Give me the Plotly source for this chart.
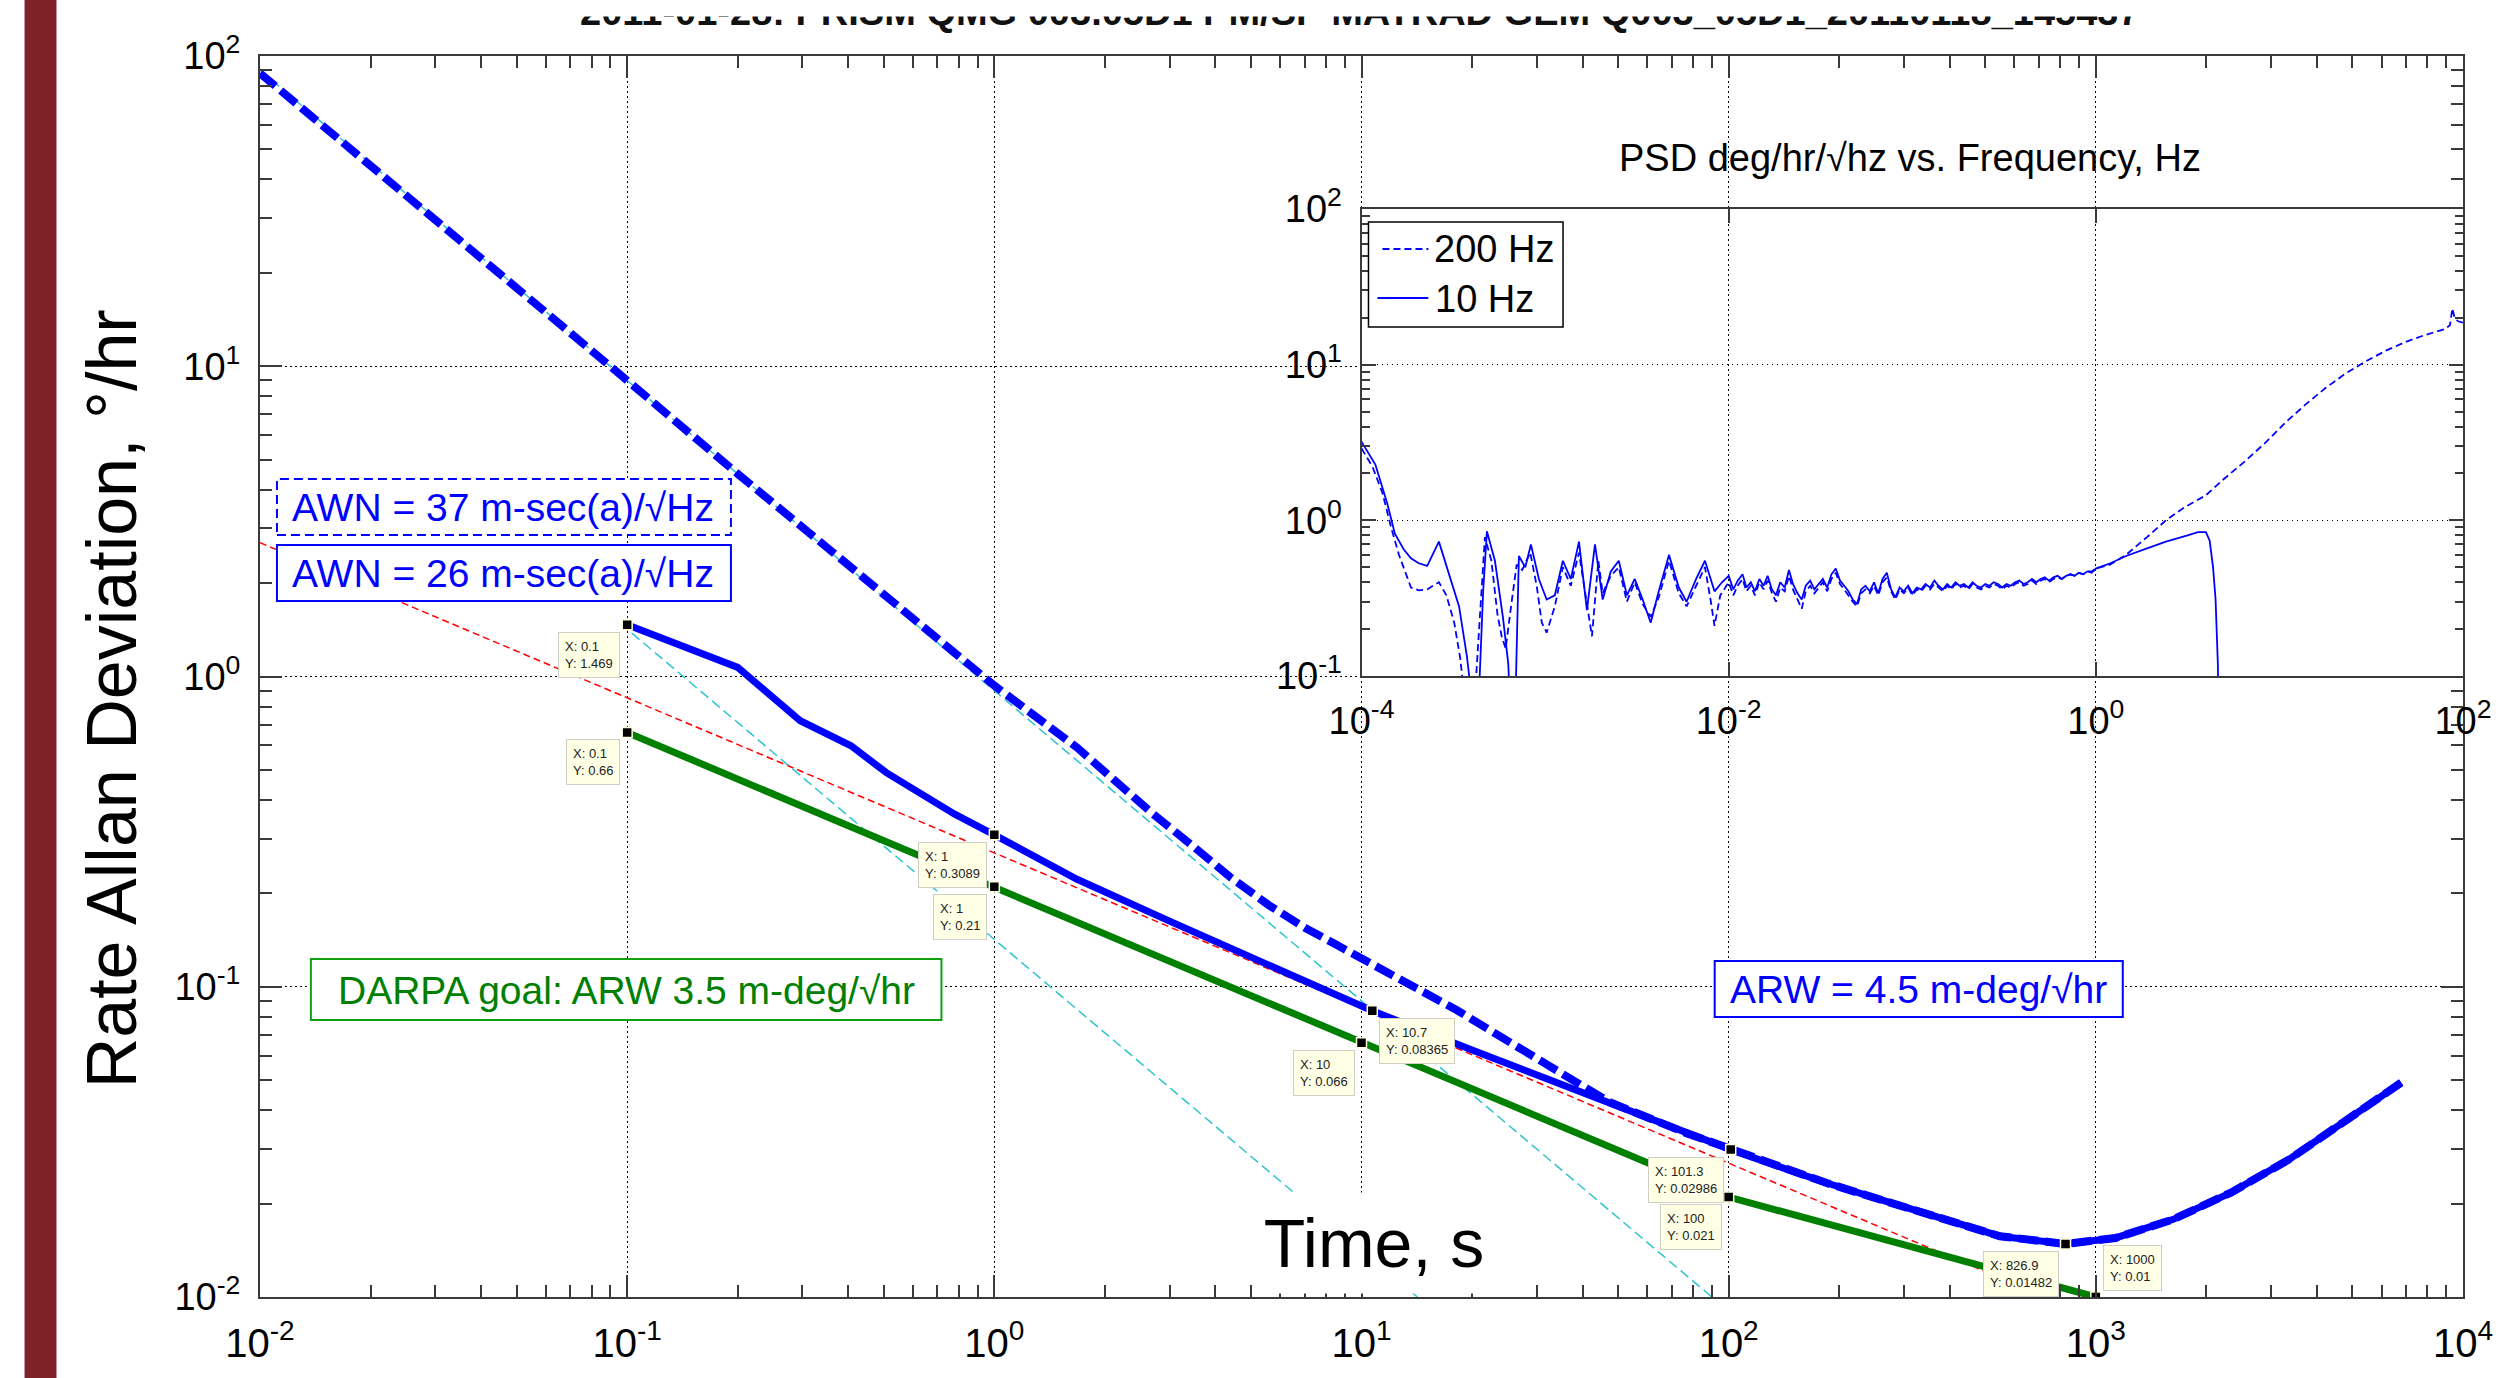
import math
import plotly.graph_objects as go

# ---------------- data ----------------
# Rate Allan deviation, 200 Hz bandwidth (thick dashed)
adev200_tau = [0.01, 0.02, 0.05, 0.1, 0.2, 0.4, 1.0, 1.68, 2.71, 3.5, 4.38, 5.6, 7.07, 8.5, 10.2, 12.5,
               15.2, 18.2, 23, 29.3, 47.3, 76.4, 100, 185, 266, 382, 548, 826.9, 1131, 1626, 2333,
               3350, 4812, 6790]
adev200_val = [88, 44.5, 17.9, 9.0, 4.5, 2.3, 0.935, 0.59, 0.36, 0.282, 0.226, 0.183, 0.154, 0.137, 0.122,
               0.108, 0.094, 0.084, 0.071, 0.0596, 0.0425, 0.0338, 0.0302, 0.0233, 0.0204, 0.0178,
               0.0157, 0.01482, 0.0155, 0.0178, 0.0217, 0.0277, 0.0373, 0.0491]

# Rate Allan deviation, 10 Hz bandwidth (thick solid)
adev10_tau = [0.1, 0.2, 0.296, 0.407, 0.508, 0.596, 0.78, 1.0, 1.68, 2.99, 5.56, 8.98, 10.7, 20, 50,
              101.3, 135, 185, 266, 382, 548, 826.9, 1131, 1626, 2333, 3350, 4812, 6790]
adev10_val = [1.469, 1.07, 0.72, 0.598, 0.49, 0.439, 0.36, 0.3089, 0.222, 0.163, 0.118, 0.0912, 0.08365,
              0.0625, 0.041, 0.02986, 0.0265, 0.0233, 0.0204, 0.0178, 0.0157, 0.01482, 0.0155, 0.0178,
              0.0217, 0.0277, 0.0373, 0.0491]

# DARPA goal line
goal_tau = [0.1, 1, 10, 100, 1000]
goal_val = [0.66, 0.21, 0.066, 0.021, 0.01]

# ARW fit (red dashed) and AWN fits (cyan dashed)
arw_tau = [0.01, 1000]
arw_val = [2.7, 0.00854]
awn26_tau = [0.103, 14.2]
awn26_val = [1.38, 0.01]
awn37_tau = [0.01, 90]
awn37_val = [90, 0.01]

# data tips
tip_x = [0.1, 0.1, 1, 1, 10, 10.7, 101.3, 100, 826.9, 1000]
tip_y = [1.469, 0.66, 0.3089, 0.21, 0.066, 0.08365, 0.02986, 0.021, 0.01482, 0.01]

# PSD inset, 10 Hz (solid)
psd10_f = [1.0e-4, 1.19e-4, 1.38e-4, 1.52e-4, 1.7e-4, 1.86e-4, 2.05e-4, 2.28e-4, 2.64e-4, 3.07e-4,
           3.40e-4, 3.75e-4, 4.06e-4, 4.35e-4, 4.6e-4, 4.82e-4, 5.33e-4, 5.89e-4, 6.3e-4, 6.52e-4,
           6.85e-4, 7.2e-4, 7.8e-4, 8.37e-4, 9.25e-4, 1.02e-3, 1.13e-3, 1.25e-3, 1.38e-3, 1.53e-3,
           1.69e-3, 1.87e-3, 2.06e-3, 2.28e-3, 2.52e-3, 2.79e-3, 3.08e-3, 3.40e-3, 3.76e-3, 4.16e-3,
           4.73e-3, 5.35e-3, 5.90e-3, 6.65e-3, 7.43e-3, 8.37e-3, 9.2e-3,
           0.0100, 0.0106, 0.0112, 0.0119, 0.0125, 0.0132, 0.0139, 0.0147, 0.0155, 0.0163,
           0.0172, 0.0181, 0.0191, 0.0202, 0.0213, 0.0224, 0.0237, 0.0250, 0.0263, 0.0278,
           0.0293, 0.0309, 0.0326, 0.0344, 0.0363, 0.0383, 0.0404, 0.0426, 0.0449, 0.0474,
           0.0500, 0.0527, 0.0556, 0.0587, 0.0619, 0.0653, 0.0689, 0.0727, 0.0767, 0.0809,
           0.0853, 0.0900, 0.0950, 0.100, 0.106, 0.112, 0.118, 0.125, 0.132, 0.139,
           0.147, 0.155, 0.163, 0.172, 0.181, 0.191, 0.202, 0.213, 0.224, 0.237,
           0.250, 0.263, 0.278, 0.293, 0.309, 0.326, 0.344, 0.363, 0.383, 0.404,
           0.426, 0.449, 0.474, 0.500, 0.527, 0.556, 0.587, 0.619, 0.653, 0.689,
           0.727, 0.767, 0.809, 0.853, 0.900, 0.950, 1.0, 1.2, 1.46, 1.9,
           2.41, 3.16, 3.6, 3.98, 4.17, 4.35, 4.49, 4.62, 4.75]
psd10_val = [3.2, 2.28, 1.29, 0.82, 0.65, 0.57, 0.53, 0.51, 0.73, 0.42,
             0.28, 0.134, 0.06, 0.07, 0.35, 0.85, 0.55, 0.24, 0.12, 0.05,
             0.05, 0.59, 0.50, 0.70, 0.42, 0.31, 0.33, 0.55, 0.42, 0.73,
             0.265, 0.70, 0.31, 0.47, 0.55, 0.33, 0.42, 0.31, 0.22, 0.35,
             0.60, 0.37, 0.30, 0.42, 0.55, 0.35, 0.40,
             0.44, 0.36, 0.41, 0.45, 0.37, 0.40, 0.35, 0.42, 0.38, 0.44,
             0.36, 0.33, 0.40, 0.37, 0.48, 0.39, 0.34, 0.31, 0.38, 0.41,
             0.36, 0.39, 0.42, 0.37, 0.45, 0.49, 0.41, 0.38, 0.35, 0.31,
             0.29, 0.36, 0.38, 0.35, 0.40, 0.34, 0.42, 0.46, 0.36, 0.32,
             0.37, 0.35, 0.38, 0.34, 0.37, 0.36, 0.39, 0.37, 0.41, 0.38,
             0.36, 0.39, 0.37, 0.40, 0.38, 0.39, 0.37, 0.40, 0.38, 0.37,
             0.39, 0.38, 0.40, 0.39, 0.37, 0.39, 0.38, 0.40, 0.41, 0.39,
             0.40, 0.42, 0.40, 0.42, 0.43, 0.41, 0.43, 0.44, 0.42, 0.44,
             0.45, 0.44, 0.46, 0.45, 0.47, 0.46, 0.49, 0.53, 0.59, 0.66,
             0.73, 0.80, 0.84, 0.84, 0.74, 0.50, 0.31, 0.12, 0.02]

# PSD inset, 200 Hz (dashed)
psd200_f = [1.0e-4, 1.15e-4, 1.3e-4, 1.45e-4, 1.6e-4, 1.75e-4, 1.86e-4, 2.05e-4, 2.28e-4, 2.45e-4,
            2.64e-4, 2.9e-4, 3.2e-4, 3.45e-4, 3.65e-4, 4.1e-4, 4.45e-4, 4.7e-4, 5.1e-4, 5.5e-4,
            5.8e-4, 6.1e-4, 6.5e-4, 7.0e-4, 7.5e-4, 8.3e-4, 9.0e-4, 9.6e-4, 1.02e-3, 1.13e-3,
            1.25e-3, 1.38e-3, 1.53e-3, 1.69e-3, 1.8e-3, 1.95e-3, 2.06e-3, 2.28e-3, 2.52e-3, 2.79e-3,
            3.08e-3, 3.40e-3, 3.76e-3, 4.16e-3, 4.73e-3, 5.35e-3, 5.90e-3, 6.65e-3, 7.43e-3, 8.0e-3,
            8.37e-3, 9.0e-3,
            0.0100, 0.0106, 0.0112, 0.0119, 0.0125, 0.0132, 0.0139, 0.0147, 0.0155, 0.0163,
            0.0172, 0.0181, 0.0191, 0.0202, 0.0213, 0.0224, 0.0237, 0.0250, 0.0263, 0.0278,
            0.0293, 0.0309, 0.0326, 0.0344, 0.0363, 0.0383, 0.0404, 0.0426, 0.0449, 0.0474,
            0.0500, 0.0527, 0.0556, 0.0587, 0.0619, 0.0653, 0.0689, 0.0727, 0.0767, 0.0809,
            0.0853, 0.0900, 0.0950, 0.100, 0.106, 0.112, 0.118, 0.125, 0.132, 0.139,
            0.147, 0.155, 0.163, 0.172, 0.181, 0.191, 0.202, 0.213, 0.224, 0.237,
            0.250, 0.263, 0.278, 0.293, 0.309, 0.326, 0.344, 0.363, 0.383, 0.404,
            0.426, 0.449, 0.474, 0.500, 0.527, 0.556, 0.587, 0.619, 0.653, 0.689,
            0.727, 0.767, 0.809, 0.853, 0.900, 0.950, 1.0, 1.2, 1.46, 1.9,
            2.41, 3.0, 3.98, 5.0, 6.56, 8.5, 10.8, 14, 17.9, 23,
            29.5, 38, 48.6, 62, 80.4, 85, 87.5, 90, 94, 100]
psd200_val = [2.9, 2.2, 1.5, 0.9, 0.6, 0.45, 0.37, 0.355, 0.36, 0.38,
              0.40, 0.33, 0.22, 0.13, 0.07, 0.06, 0.30, 0.78, 0.55, 0.25,
              0.18, 0.15, 0.27, 0.52, 0.48, 0.62, 0.38, 0.22, 0.19, 0.28,
              0.50, 0.38, 0.62, 0.30, 0.18, 0.55, 0.34, 0.44, 0.50, 0.30,
              0.40, 0.29, 0.24, 0.32, 0.55, 0.34, 0.28, 0.38, 0.50, 0.30,
              0.21, 0.33,
              0.40, 0.33, 0.38, 0.42, 0.35, 0.38, 0.33, 0.40, 0.36, 0.41,
              0.34, 0.30, 0.37, 0.35, 0.44, 0.36, 0.31, 0.27, 0.35, 0.38,
              0.34, 0.37, 0.40, 0.35, 0.42, 0.46, 0.39, 0.36, 0.33, 0.30,
              0.28, 0.34, 0.36, 0.34, 0.38, 0.33, 0.40, 0.43, 0.35, 0.31,
              0.36, 0.34, 0.37, 0.33, 0.36, 0.35, 0.38, 0.36, 0.39, 0.37,
              0.35, 0.38, 0.36, 0.39, 0.37, 0.38, 0.36, 0.39, 0.37, 0.36,
              0.38, 0.37, 0.39, 0.38, 0.36, 0.38, 0.37, 0.39, 0.40, 0.38,
              0.39, 0.41, 0.39, 0.41, 0.42, 0.40, 0.42, 0.43, 0.42, 0.44,
              0.45, 0.44, 0.46, 0.45, 0.47, 0.47, 0.49, 0.52, 0.60, 0.78,
              1.0, 1.2, 1.45, 1.85, 2.42, 3.2, 4.26, 5.6, 7.1, 8.8,
              10.5, 12.3, 14.0, 15.5, 17.0, 18.0, 23.0, 20.0, 19.0, 18.6]

main_x_ticks = [0.01, 0.1, 1, 10, 100, 1000, 10000]
main_x_labels = ["10<sup>-2</sup>", "10<sup>-1</sup>", "10<sup>0</sup>", "10<sup>1</sup>",
                 "10<sup>2</sup>", "10<sup>3</sup>", "10<sup>4</sup>"]
main_y_ticks = [0.01, 0.1, 1, 10, 100]
main_y_labels = ["10<sup>-2</sup>", "10<sup>-1</sup>", "10<sup>0</sup>", "10<sup>1</sup>", "10<sup>2</sup>"]
psd_x_ticks = [1e-4, 1e-2, 1, 100]
psd_x_labels = ["10<sup>-4</sup>", "10<sup>-2</sup>", "10<sup>0</sup>", "10<sup>2</sup>"]
psd_y_ticks = [0.1, 1, 10, 100]
psd_y_labels = ["10<sup>-1</sup>", "10<sup>0</sup>", "10<sup>1</sup>", "10<sup>2</sup>"]
legend_names = ["200 Hz", "10 Hz"]

# ---------------- layout helpers ----------------
W, H = 2505, 1378
L, R, T, B = 260, 2468, 56, 1297
PW, PH = R - L, B - T


def px(xp):
    return (xp - L) / PW


def py(yp):
    return (B - yp) / PH


FONT = "Liberation Sans, Arial, sans-serif"
BLUE = "#0000FF"
GREEN = "#008000"
AX = "#3a3a3a"


def minor_vals(e0, e1):
    return [m * 10 ** e for e in range(e0, e1) for m in range(2, 10)]


fig = go.Figure()

# main traces
fig.add_trace(go.Scatter(x=arw_tau, y=arw_val, mode="lines",
                         line=dict(color="#FF0000", width=1.5, dash="7px,4px")))
fig.add_trace(go.Scatter(x=awn26_tau, y=awn26_val, mode="lines",
                         line=dict(color="#2EC4CF", width=1.5, dash="10px,5px")))
fig.add_trace(go.Scatter(x=awn37_tau, y=awn37_val, mode="lines",
                         line=dict(color="#2EC4CF", width=1.5, dash="10px,5px")))
fig.add_trace(go.Scatter(x=goal_tau, y=goal_val, mode="lines",
                         line=dict(color=GREEN, width=7)))
fig.add_trace(go.Scatter(x=adev200_tau, y=adev200_val, mode="lines",
                         line=dict(color=BLUE, width=8, dash="20px,7px")))
fig.add_trace(go.Scatter(x=adev10_tau, y=adev10_val, mode="lines",
                         line=dict(color=BLUE, width=7)))
fig.add_trace(go.Scatter(x=tip_x, y=tip_y, mode="markers",
                         marker=dict(symbol="square", size=10, color="black",
                                     line=dict(color="#FFFFE0", width=1.5))))

# inset traces
fig.add_trace(go.Scatter(x=psd200_f, y=psd200_val, mode="lines", name=legend_names[0],
                         line=dict(color=BLUE, width=1.8, dash="7px,4px"), xaxis="x2", yaxis="y2"))
fig.add_trace(go.Scatter(x=psd10_f, y=psd10_val, mode="lines", name=legend_names[1],
                         line=dict(color=BLUE, width=1.8), xaxis="x2", yaxis="y2"))

grid = dict(showgrid=True, gridcolor="black", gridwidth=1, griddash="1.5px,3.5px")
axbase = dict(type="log", showline=True, linecolor=AX, linewidth=2, mirror="ticks",
              ticks="inside", tickcolor=AX, tickwidth=1.5, zeroline=False, tickmode="array",
              ticklabelstandoff=10, **grid)

fig.update_layout(
    width=W, height=H, autosize=False, showlegend=False,
    margin=dict(l=L, r=W - R, t=T, b=H - B, pad=0),
    paper_bgcolor="white", plot_bgcolor="white",
    font=dict(family=FONT, color="black"),
    xaxis=dict(domain=[0, 1], range=[-2, 4], tickvals=main_x_ticks, ticktext=main_x_labels,
               ticklen=22, tickfont=dict(size=40), anchor="y",
               minor=dict(tickvals=minor_vals(-2, 4), ticks="inside", ticklen=12,
                          tickcolor=AX, tickwidth=1.5, showgrid=False),
               **axbase),
    yaxis=dict(domain=[0, 1], range=[-2, 2], tickvals=main_y_ticks, ticktext=main_y_labels,
               ticklen=22, tickfont=dict(size=38), anchor="x",
               minor=dict(tickvals=minor_vals(-2, 2), ticks="inside", ticklen=12,
                          tickcolor=AX, tickwidth=1.5, showgrid=False),
               **axbase),
    xaxis2=dict(domain=[px(1364), 1], range=[-4, 2], tickvals=psd_x_ticks, ticktext=psd_x_labels,
                ticklen=14, tickfont=dict(size=38), anchor="y2", **axbase),
    yaxis2=dict(domain=[py(676), py(209)], range=[-1, 2], tickvals=psd_y_ticks,
                ticktext=psd_y_labels, ticklen=14, tickfont=dict(size=38), anchor="x2",
                minor=dict(tickvals=minor_vals(-1, 2), ticks="inside", ticklen=8,
                           tickcolor=AX, tickwidth=1.5, showgrid=False),
                **axbase),
)

shapes = []
# dark red stripe at left edge of the slide
shapes.append(dict(type="rect", xref="paper", yref="paper", x0=px(24), x1=px(56), y0=py(H + 5),
                   y1=py(-5), fillcolor="#7E2228", line=dict(width=0), layer="above"))


def box(x0, y0, x1, y1, color, dash="solid", width=2):
    shapes.append(dict(type="rect", xref="paper", yref="paper", x0=px(x0), x1=px(x1),
                       y0=py(y1), y1=py(y0), fillcolor="white",
                       line=dict(color=color, width=width, dash=dash), layer="above"))


box(277, 479, 732, 535, BLUE, "9px,5px")
box(277, 545, 732, 601, BLUE)
box(1718, 961, 2127, 1017, BLUE)
box(311, 959, 943, 1020, "#10A010")
# inset legend (box + line samples)
box(1371, 222, 1566, 327, "black", width=1.5)
shapes.append(dict(type="line", xref="paper", yref="paper", x0=px(1385), x1=px(1431),
                   y0=py(249), y1=py(249), line=dict(color=BLUE, width=2, dash="7px,4px"),
                   layer="above"))
shapes.append(dict(type="line", xref="paper", yref="paper", x0=px(1380), x1=px(1431),
                   y0=py(298), y1=py(298), line=dict(color=BLUE, width=2), layer="above"))
fig.update_layout(shapes=shapes)

ann = []


def text(xc, yc, s, size, color="black", **kw):
    d = dict(xref="paper", yref="paper", x=px(xc), y=py(yc), text=s, showarrow=False,
             xanchor="center", yanchor="middle", font=dict(size=size, color=color, family=FONT))
    d.update(kw)
    ann.append(d)


text(504, 507, "AWN = 37 m-sec(a)/√Hz", 39, BLUE)
text(504, 573, "AWN = 26 m-sec(a)/√Hz", 39, BLUE)
text(1922, 989, "ARW = 4.5 m-deg/√hr", 39, BLUE)
text(627, 990, "DARPA goal: ARW 3.5 m-deg/√hr", 39, GREEN)
text(1914, 158, "PSD deg/hr/√hz vs. Frequency, Hz", 38)
text(1435, 249, legend_names[0], 38, xanchor="left")
text(1436, 299, legend_names[1], 38, xanchor="left")
text(1377, 1243, "Time, s", 68, bgcolor="white", width=240, height=100, borderpad=0)
text(112, 699, "Rate Allan Deviation, °/hr", 70, textangle=-90)
# slide title, whose upper part is hidden in the original
text(1362, 12, "<b>2011-01-28: PRISM QMG 003.05D1 PM/SP MATRAD GEM Q003_05D1_20110118_145437</b>",
     38, "#111")
ann.append(dict(xref="paper", yref="paper", x=px(1362), y=py(-12), xanchor="center",
                yanchor="top", text=" ", showarrow=False, bgcolor="white", width=2000, height=27,
                borderpad=0, font=dict(size=10)))

# data-tip boxes
tip_place = ["lb", "lb", "lb", "lb", "lb", "rb", "lb", "lb", "lb", "ra"]
for xv, yv, p in zip(tip_x, tip_y, tip_place):
    d = dict(xref="x", yref="y", x=math.log10(xv), y=math.log10(yv),
             text=f"X: {xv:g}<br>Y: {yv:g}", showarrow=False, align="left",
             font=dict(size=13, color="#222", family=FONT),
             bgcolor="#FFFFE6", bordercolor="#CFCFC4", borderwidth=1, borderpad=6)
    if p == "lb":
        d.update(xanchor="right", yanchor="top", xshift=-7, yshift=-7)
    elif p == "rb":
        d.update(xanchor="left", yanchor="top", xshift=7, yshift=-7)
    else:
        d.update(xanchor="left", yanchor="bottom", xshift=7, yshift=6)
    ann.append(d)

fig.update_layout(annotations=ann)

fig.write_html("out.html", config={"displayModeBar": False},
               post_script="document.body.style.margin='0px';document.body.style.overflow='hidden';")
